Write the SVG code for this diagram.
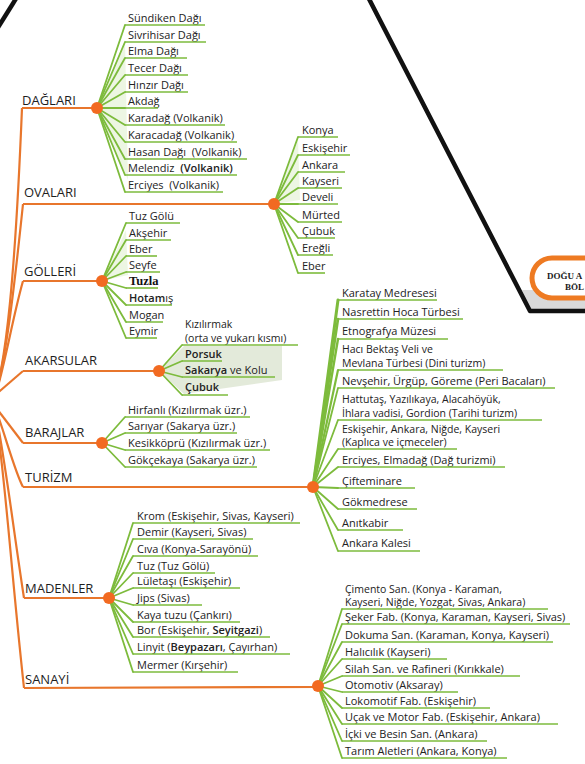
<svg xmlns="http://www.w3.org/2000/svg" width="585" height="764" viewBox="0 0 585 764">
<style>
.cat{font-family:"Open Sans","Liberation Sans",sans-serif;font-size:13px;fill:#1e1e1e}
.it{font-family:"Open Sans","Liberation Sans",sans-serif;font-size:11px;fill:#222}
.it2{font-family:"Open Sans","Liberation Sans",sans-serif;font-size:10.5px;fill:#222}
.b{font-weight:600}
.trunk{stroke:#E8762C;stroke-width:2.2;fill:none}
.fan{stroke:#7DBB3C;stroke-width:1.8;stroke-linecap:round}
.ul{stroke:#7DBB3C;stroke-width:1.6}
.dot{fill:#F26A21}
.shade{fill:#9CCB66;opacity:0.18}
.blk{stroke:#111;stroke-width:4.5;fill:none;stroke-linejoin:round}
.pilltxt{font-family:"Liberation Serif",serif;font-size:9px;font-weight:bold;fill:#1a1a1a}
</style>
<rect width="585" height="764" fill="#ffffff"/>

<g id="frame">
  <polygon points="522,290 585,290 585,310 530,310" fill="#d9d9d9"/>
  <path class="blk" d="M368,-3 L530,311 L590,311"/>
  <path class="blk" d="M-3,29 L17,-3"/>
</g>

<g id="node-dogu">
  <rect x="532" y="258" width="90" height="40" rx="20" fill="#ffffff" stroke="#EE7A22" stroke-width="5"/>
  <text class="pilltxt" x="547" y="279">DOĞU A</text>
  <text class="pilltxt" x="565" y="290">BÖL</text>
</g>

<g id="shading">
  <polygon class="shade" points="97,108 125,40 128,180"/>
  <polygon class="shade" points="274,204 298,140 300,200"/>
  <polygon class="shade" points="102,281 126,230 128,275"/>
  <polygon points="159,371 184,346 282,346 282,380 184,394" fill="#A9C090" opacity="0.33"/>
</g>

<g id="connectors">
  <path class="trunk" d="M22,108 C15,280 6,360 -6,400"/>
  <path class="trunk" d="M23,204 C14,290 6,360 -6,400"/>
  <path class="trunk" d="M23,281 C12,320 4,370 -6,400"/>
  <path class="trunk" d="M23,371 L-6,396"/>
  <path class="trunk" d="M23,443 L-6,405"/>
  <path class="trunk" d="M23,487 C14,470 4,430 -6,405"/>
  <path class="trunk" d="M24,598 C12,520 4,450 -6,405"/>
  <path class="trunk" d="M24,688 C10,560 4,460 -6,405"/>
  <line class="trunk" x1="22" y1="108" x2="97" y2="108"/>
  <line class="trunk" x1="23" y1="204" x2="274" y2="204"/>
  <line class="trunk" x1="23" y1="281" x2="102" y2="281"/>
  <line class="trunk" x1="23" y1="371" x2="159" y2="371"/>
  <line class="trunk" x1="23" y1="443" x2="102" y2="443"/>
  <line class="trunk" x1="23" y1="487" x2="313" y2="487"/>
  <line class="trunk" x1="24" y1="598" x2="109" y2="598"/>
  <line class="trunk" x1="24" y1="688" x2="318" y2="687"/>
  <g class="fan">
    <line x1="97" y1="108" x2="125" y2="25"/>
    <line x1="97" y1="108" x2="125" y2="42"/>
    <line x1="97" y1="108" x2="125" y2="58"/>
    <line x1="97" y1="108" x2="125" y2="75"/>
    <line x1="97" y1="108" x2="125" y2="92"/>
    <line x1="97" y1="108" x2="125" y2="108"/>
    <line x1="97" y1="108" x2="125" y2="125"/>
    <line x1="97" y1="108" x2="125" y2="142"/>
    <line x1="97" y1="108" x2="125" y2="159"/>
    <line x1="97" y1="108" x2="125" y2="175"/>
    <line x1="97" y1="108" x2="125" y2="192"/>
  </g>
  <g class="fan">
    <line x1="274" y1="204" x2="298" y2="137"/>
    <line x1="274" y1="204" x2="298" y2="155"/>
    <line x1="274" y1="204" x2="298" y2="172"/>
    <line x1="274" y1="204" x2="298" y2="188"/>
    <line x1="274" y1="204" x2="298" y2="204"/>
    <line x1="274" y1="204" x2="298" y2="222"/>
    <line x1="274" y1="204" x2="298" y2="238"/>
    <line x1="274" y1="204" x2="298" y2="255"/>
    <line x1="274" y1="204" x2="298" y2="273"/>
  </g>
  <g class="fan">
    <line x1="102" y1="281" x2="126" y2="223"/>
    <line x1="102" y1="281" x2="126" y2="240"/>
    <line x1="102" y1="281" x2="126" y2="256"/>
    <line x1="102" y1="281" x2="126" y2="272"/>
    <line x1="102" y1="281" x2="126" y2="288"/>
    <line x1="102" y1="281" x2="126" y2="305"/>
    <line x1="102" y1="281" x2="126" y2="322"/>
    <line x1="102" y1="281" x2="126" y2="338"/>
  </g>
  <g class="fan">
    <line x1="159" y1="371" x2="182" y2="345"/>
    <line x1="159" y1="371" x2="182" y2="361"/>
    <line x1="159" y1="371" x2="182" y2="377"/>
    <line x1="159" y1="371" x2="182" y2="395"/>
  </g>
  <g class="fan">
    <line x1="102" y1="443" x2="125" y2="417"/>
    <line x1="102" y1="443" x2="125" y2="433"/>
    <line x1="102" y1="443" x2="125" y2="450"/>
    <line x1="102" y1="443" x2="125" y2="467"/>
  </g>
  <g class="fan">
    <line x1="313" y1="487" x2="338" y2="300" stroke-width="3"/>
    <line x1="313" y1="487" x2="338" y2="319" stroke-width="2.6"/>
    <line x1="313" y1="487" x2="338" y2="339" stroke-width="2.4"/>
    <line x1="313" y1="487" x2="338" y2="370" stroke-width="2.2"/>
    <line x1="313" y1="487" x2="338" y2="388"/>
    <line x1="313" y1="487" x2="338" y2="420"/>
    <line x1="313" y1="487" x2="338" y2="449"/>
    <line x1="313" y1="487" x2="338" y2="467"/>
    <line x1="313" y1="487" x2="338" y2="488"/>
    <line x1="313" y1="487" x2="338" y2="509"/>
    <line x1="313" y1="487" x2="338" y2="530"/>
    <line x1="313" y1="487" x2="338" y2="551"/>
  </g>
  <g class="fan">
    <line x1="109" y1="598" x2="133" y2="523"/>
    <line x1="109" y1="598" x2="133" y2="539"/>
    <line x1="109" y1="598" x2="133" y2="556"/>
    <line x1="109" y1="598" x2="133" y2="573"/>
    <line x1="109" y1="598" x2="133" y2="588"/>
    <line x1="109" y1="598" x2="133" y2="605"/>
    <line x1="109" y1="598" x2="133" y2="622"/>
    <line x1="109" y1="598" x2="133" y2="637"/>
    <line x1="109" y1="598" x2="133" y2="654"/>
    <line x1="109" y1="598" x2="133" y2="672"/>
  </g>
  <g class="fan">
    <line x1="318" y1="686" x2="342" y2="609"/>
    <line x1="318" y1="686" x2="342" y2="624"/>
    <line x1="318" y1="686" x2="342" y2="642"/>
    <line x1="318" y1="686" x2="342" y2="659"/>
    <line x1="318" y1="686" x2="342" y2="676"/>
    <line x1="318" y1="686" x2="342" y2="692"/>
    <line x1="318" y1="686" x2="342" y2="708"/>
    <line x1="318" y1="686" x2="342" y2="724"/>
    <line x1="318" y1="686" x2="342" y2="741"/>
    <line x1="318" y1="686" x2="342" y2="758"/>
  </g>
</g>

<g id="node-daglari"><text class="cat" x="22" y="105">DAĞLARI</text><circle class="dot" cx="97" cy="108" r="6"/></g>
<g id="node-ovalari"><text class="cat" x="24" y="197">OVALARI</text><circle class="dot" cx="274" cy="204" r="6"/></g>
<g id="node-golleri"><text class="cat" x="24" y="276">GÖLLERİ</text><circle class="dot" cx="102" cy="281" r="6"/></g>
<g id="node-akarsular"><text class="cat" x="25" y="365">AKARSULAR</text><circle class="dot" cx="159" cy="371" r="6"/></g>
<g id="node-barajlar"><text class="cat" x="25" y="437">BARAJLAR</text><circle class="dot" cx="102" cy="443" r="6"/></g>
<g id="node-turizm"><text class="cat" x="25" y="482">TURİZM</text><circle class="dot" cx="313" cy="487" r="6"/></g>
<g id="node-madenler"><text class="cat" x="25" y="593">MADENLER</text><circle class="dot" cx="109" cy="598" r="6"/></g>
<g id="node-sanayi"><text class="cat" x="25" y="684">SANAYİ</text><circle class="dot" cx="318" cy="686" r="6"/></g>

<g id="daglari-items">
  <g id="d1"><text class="it" x="128" y="21.5">Sündiken Dağı</text><line class="ul" x1="125" y1="25" x2="205" y2="25"/></g>
  <g id="d2"><text class="it" x="128" y="38.5">Sivrihisar Dağı</text><line class="ul" x1="125" y1="42" x2="206" y2="42"/></g>
  <g id="d3"><text class="it" x="128" y="54.5">Elma Dağı</text><line class="ul" x1="125" y1="58" x2="187" y2="58"/></g>
  <g id="d4"><text class="it" x="128" y="71.5">Tecer Dağı</text><line class="ul" x1="125" y1="75" x2="188" y2="75"/></g>
  <g id="d5"><text class="it" x="128" y="88.5">Hınzır Dağı</text><line class="ul" x1="125" y1="92" x2="188" y2="92"/></g>
  <g id="d6"><text class="it" x="128" y="104.5">Akdağ</text><line class="ul" x1="125" y1="108" x2="158" y2="108"/></g>
  <g id="d7"><text class="it" x="128" y="121.5">Karadağ (Volkanik)</text><line class="ul" x1="125" y1="125" x2="225" y2="125"/></g>
  <g id="d8"><text class="it" x="128" y="138.5">Karacadağ (Volkanik)</text><line class="ul" x1="125" y1="142" x2="237" y2="142"/></g>
  <g id="d9"><text class="it" x="128" y="155.5" xml:space="preserve">Hasan Dağı  (Volkanik)</text><line class="ul" x1="125" y1="159" x2="247" y2="159"/></g>
  <g id="d10"><text class="it" x="128" y="171.5" xml:space="preserve">Melendiz  <tspan class="b">(Volkanik)</tspan></text><line class="ul" x1="125" y1="175" x2="237" y2="175"/></g>
  <g id="d11"><text class="it" x="128" y="188.5" xml:space="preserve">Erciyes  (Volkanik)</text><line class="ul" x1="125" y1="192" x2="223" y2="192"/></g>
</g>

<g id="ovalari-items">
  <g id="o1"><text class="it" x="302" y="133.5">Konya</text><line class="ul" x1="298" y1="137" x2="338" y2="137"/></g>
  <g id="o2"><text class="it" x="302" y="151.5">Eskişehir</text><line class="ul" x1="298" y1="155" x2="350" y2="155"/></g>
  <g id="o3"><text class="it" x="302" y="168.5">Ankara</text><line class="ul" x1="298" y1="172" x2="345" y2="172"/></g>
  <g id="o4"><text class="it" x="302" y="184.5">Kayseri</text><line class="ul" x1="298" y1="188" x2="342" y2="188"/></g>
  <g id="o5"><text class="it" x="302" y="200.5">Develi</text><line class="ul" x1="298" y1="204" x2="338" y2="204"/></g>
  <g id="o6"><text class="it" x="302" y="218.5">Mürted</text><line class="ul" x1="298" y1="222" x2="342" y2="222"/></g>
  <g id="o7"><text class="it" x="302" y="234.5">Çubuk</text><line class="ul" x1="298" y1="238" x2="335" y2="238"/></g>
  <g id="o8"><text class="it" x="302" y="251.5">Ereğli</text><line class="ul" x1="298" y1="255" x2="333" y2="255"/></g>
  <g id="o9"><text class="it" x="302" y="269.5">Eber</text><line class="ul" x1="298" y1="273" x2="325" y2="273"/></g>
</g>

<g id="golleri-items">
  <g id="g1"><text class="it" x="129" y="219.5">Tuz Gölü</text><line class="ul" x1="126" y1="223" x2="180" y2="223"/></g>
  <g id="g2"><text class="it" x="129" y="236.5">Akşehir</text><line class="ul" x1="126" y1="240" x2="171" y2="240"/></g>
  <g id="g3"><text class="it" x="129" y="252.5">Eber</text><line class="ul" x1="126" y1="256" x2="157" y2="256"/></g>
  <g id="g4"><text class="it" x="129" y="268.5">Seyfe</text><line class="ul" x1="126" y1="272" x2="160" y2="272"/></g>
  <g id="g5"><text x="129" y="285" font-family="Liberation Serif, serif" font-size="12.5" font-weight="bold" fill="#111">Tuzla</text><line class="ul" x1="126" y1="288" x2="158" y2="288"/></g>
  <g id="g6"><text class="it" x="129" y="301.5"><tspan class="b">Hotam</tspan>ış</text><line class="ul" x1="126" y1="305" x2="172" y2="305"/></g>
  <g id="g7"><text class="it" x="129" y="318.5">Mogan</text><line class="ul" x1="126" y1="322" x2="163" y2="322"/></g>
  <g id="g8"><text class="it" x="129" y="334.5">Eymir</text><line class="ul" x1="126" y1="338" x2="157" y2="338"/></g>
</g>

<g id="akarsular-items">
  <g id="a1"><text class="it2" x="185" y="328">Kızılırmak</text><text class="it2" x="185" y="341.5">(orta ve yukarı kısmı)</text><line class="ul" x1="182" y1="345" x2="298" y2="345"/></g>
  <g id="a2"><text class="it b" x="185" y="357.5">Porsuk</text><line class="ul" x1="182" y1="361" x2="222" y2="361"/></g>
  <g id="a3"><text class="it" x="185" y="373.5"><tspan class="b">Sakarya</tspan> ve Kolu</text><line class="ul" x1="182" y1="377" x2="275" y2="377"/></g>
  <g id="a4"><text class="it b" x="185" y="391">Çubuk</text><line class="ul" x1="182" y1="395" x2="228" y2="395"/></g>
</g>

<g id="barajlar-items">
  <g id="b1"><text class="it" x="128" y="413.5">Hirfanlı (Kızılırmak üzr.)</text><line class="ul" x1="125" y1="417" x2="250" y2="417"/></g>
  <g id="b2"><text class="it" x="128" y="429.5">Sarıyar (Sakarya üzr.)</text><line class="ul" x1="125" y1="433" x2="237" y2="433"/></g>
  <g id="b3"><text class="it" x="128" y="446.5">Kesikköprü (Kızılırmak üzr.)</text><line class="ul" x1="125" y1="450" x2="270" y2="450"/></g>
  <g id="b4"><text class="it" x="128" y="463.5">Gökçekaya (Sakarya üzr.)</text><line class="ul" x1="125" y1="467" x2="257" y2="467"/></g>
</g>

<g id="turizm-items">
  <g id="t1"><text class="it" x="342" y="296.5">Karatay Medresesi</text><line class="ul" x1="338" y1="300" x2="437" y2="300"/></g>
  <g id="t2"><text class="it" x="342" y="315.5">Nasrettin Hoca Türbesi</text><line class="ul" x1="338" y1="319" x2="463" y2="319"/></g>
  <g id="t3"><text class="it" x="342" y="335">Etnografya Müzesi</text><line class="ul" x1="338" y1="339" x2="448" y2="339"/></g>
  <g id="t4"><text class="it2" x="342" y="353">Hacı Bektaş Veli ve</text><text class="it2" x="342" y="366.5">Mevlana Türbesi (Dini turizm)</text><line class="ul" x1="338" y1="370" x2="503" y2="370"/></g>
  <g id="t5"><text class="it" x="342" y="384.5">Nevşehir, Ürgüp, Göreme (Peri Bacaları)</text><line class="ul" x1="338" y1="388" x2="555" y2="388"/></g>
  <g id="t6"><text class="it2" x="342" y="403">Hattutaş, Yazılıkaya, Alacahöyük,</text><text class="it2" x="342" y="416.5">İhlara vadisi, Gordion (Tarihi turizm)</text><line class="ul" x1="338" y1="420" x2="542" y2="420"/></g>
  <g id="t7"><text class="it2" x="342" y="432.5">Eskişehir, Ankara, Niğde, Kayseri</text><text class="it2" x="342" y="446">(Kaplıca ve içmeceler)</text><line class="ul" x1="338" y1="449" x2="457" y2="449"/></g>
  <g id="t8"><text class="it" x="342" y="463.5">Erciyes, Elmadağ (Dağ turizmi)</text><line class="ul" x1="338" y1="467" x2="505" y2="467"/></g>
  <g id="t9"><text class="it" x="342" y="484.5">Çifteminare</text><line class="ul" x1="338" y1="488" x2="415" y2="488"/></g>
  <g id="t10"><text class="it" x="342" y="505.5">Gökmedrese</text><line class="ul" x1="338" y1="509" x2="417" y2="509"/></g>
  <g id="t11"><text class="it" x="342" y="526.5">Anıtkabir</text><line class="ul" x1="338" y1="530" x2="403" y2="530"/></g>
  <g id="t12"><text class="it" x="342" y="547">Ankara Kalesi</text><line class="ul" x1="338" y1="551" x2="420" y2="551"/></g>
</g>

<g id="madenler-items">
  <g id="m1"><text class="it" x="137" y="519.5">Krom (Eskişehir, Sivas, Kayseri)</text><line class="ul" x1="133" y1="523" x2="300" y2="523"/></g>
  <g id="m2"><text class="it" x="137" y="535.5">Demir (Kayseri, Sivas)</text><line class="ul" x1="133" y1="539" x2="253" y2="539"/></g>
  <g id="m3"><text class="it" x="137" y="552.5">Cıva (Konya-Sarayönü)</text><line class="ul" x1="133" y1="556" x2="258" y2="556"/></g>
  <g id="m4"><text class="it" x="137" y="569.5">Tuz (Tuz Gölü)</text><line class="ul" x1="133" y1="573" x2="215" y2="573"/></g>
  <g id="m5"><text class="it" x="137" y="584.5">Lületaşı (Eskişehir)</text><line class="ul" x1="133" y1="588" x2="240" y2="588"/></g>
  <g id="m6"><text class="it" x="137" y="601.5">Jips (Sivas)</text><line class="ul" x1="133" y1="605" x2="202" y2="605"/></g>
  <g id="m7"><text class="it" x="137" y="618.5">Kaya tuzu (Çankırı)</text><line class="ul" x1="133" y1="622" x2="240" y2="622"/></g>
  <g id="m8"><text class="it" x="137" y="633.5">Bor (Eskişehir, <tspan class="b">Seyitgazi</tspan>)</text><line class="ul" x1="133" y1="637" x2="270" y2="637"/></g>
  <g id="m9"><text class="it" x="137" y="650.5">Linyit (<tspan class="b">Beypazarı</tspan>, Çayırhan)</text><line class="ul" x1="133" y1="654" x2="290" y2="654"/></g>
  <g id="m10"><text class="it" x="137" y="668.5">Mermer (Kırşehir)</text><line class="ul" x1="133" y1="672" x2="238" y2="672"/></g>
</g>

<g id="sanayi-items">
  <g id="s1"><text class="it2" x="345" y="592.5">Çimento San. (Konya - Karaman,</text><text class="it2" x="345" y="606">Kayseri, Niğde, Yozgat, Sivas, Ankara)</text><line class="ul" x1="342" y1="609" x2="548" y2="609"/></g>
  <g id="s2"><text class="it" x="345" y="620.5">Şeker Fab. (Konya, Karaman, Kayseri, Sivas)</text><line class="ul" x1="342" y1="624" x2="570" y2="624"/></g>
  <g id="s3"><text class="it" x="345" y="638.5">Dokuma San. (Karaman, Konya, Kayseri)</text><line class="ul" x1="342" y1="642" x2="553" y2="642"/></g>
  <g id="s4"><text class="it" x="345" y="655.5">Halıcılık (Kayseri)</text><line class="ul" x1="342" y1="659" x2="447" y2="659"/></g>
  <g id="s5"><text class="it" x="345" y="672.5">Silah San. ve Rafineri (Kırıkkale)</text><line class="ul" x1="342" y1="676" x2="520" y2="676"/></g>
  <g id="s6"><text class="it" x="345" y="688.5">Otomotiv (Aksaray)</text><line class="ul" x1="342" y1="692" x2="458" y2="692"/></g>
  <g id="s7"><text class="it" x="345" y="704.5">Lokomotif Fab. (Eskişehir)</text><line class="ul" x1="342" y1="708" x2="490" y2="708"/></g>
  <g id="s8"><text class="it" x="345" y="720.5">Uçak ve Motor Fab. (Eskişehir, Ankara)</text><line class="ul" x1="342" y1="724" x2="558" y2="724"/></g>
  <g id="s9"><text class="it" x="345" y="737.5">İçki ve Besin San. (Ankara)</text><line class="ul" x1="342" y1="741" x2="487" y2="741"/></g>
  <g id="s10"><text class="it" x="345" y="754.5">Tarım Aletleri (Ankara, Konya)</text><line class="ul" x1="342" y1="758" x2="507" y2="758"/></g>
</g>
</svg>
